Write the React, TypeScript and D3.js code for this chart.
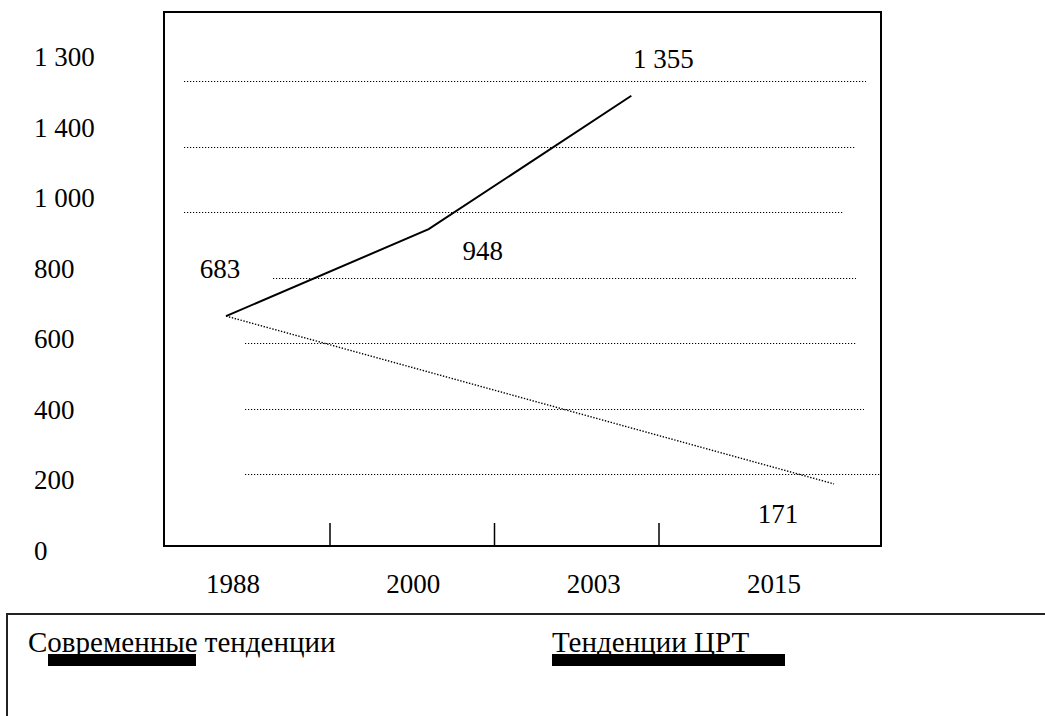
import * as d3 from "d3"

// data
const years = ["1988", "2000", "2003", "2015"]
const currentYears = ["1988", "2000", "2003"]
const currentValues = [683, 948, 1355]
const mdgYears = ["1988", "2015"]
const mdgValues = [683, 171]
const yTickLabels = ["1 300", "1 400", "1 000", "800", "600", "400", "200", "0"]
const gridValues = [200, 400, 600, 800, 1000, 1200, 1400]
const legendLabels = ["Современные тенденции", "Тенденции ЦРТ"]

const W = 1045
const H = 716
const frame = { left: 164, top: 12, right: 881, bottom: 546 }
const serif = "'Liberation Serif', Tinos, 'Times New Roman', serif"

export default function App() {
  const yScale = d3.scaleLinear().domain([0, 1400]).range([540, 81])
  const yLabelScale = d3.scalePoint().domain(yTickLabels).range([66, 560])
  const xLabelScale = d3.scalePoint().domain(years).range([233, 774])
  const xPointScale = d3.scalePoint().domain(years).range([226, 834])
  const xTickScale = d3.scaleLinear().domain([1, 3]).range([330, 659])

  const fmt = d3
    .formatLocale({ decimal: ",", thousands: " ", grouping: [3], currency: ["", ""] })
    .format(",")

  const currentData: [string, number][] = currentYears.map((y, i) => [y, currentValues[i]])
  const mdgData: [string, number][] = mdgYears.map((y, i) => [y, mdgValues[i]])

  const line = d3
    .line<[string, number]>()
    .x((d) => xPointScale(d[0]) ?? 0)
    .y((d) => yScale(d[1]))

  // hand drawn grid: each line starts / ends a bit differently
  const gridStart = (v: number) => (v >= 1000 ? 184 : v === 800 ? 273 : 245)
  const gridEnd = [frame.right, 864, 857, 856, 843, 855, 866]

  // value label offsets from their point (dx to centre, dy to baseline)
  const valueLabels = [
    { year: "1988", value: 683, dx: -6, dy: -38 },
    { year: "2000", value: 948, dx: 54, dy: 31 },
    { year: "2003", value: 1355, dx: 32, dy: -28 },
    { year: "2015", value: 171, dx: -56, dy: 39 },
  ]

  const legendX = [28, 552]
  const legendBarX = [48, 552]
  const legendBarW = [148, 233]

  return (
    <div>
      <style>{`body{margin:0} svg text{font-family:${serif} !important}`}</style>
      <svg width={W} height={H} style={{ display: "block" }} fontFamily={serif}>
        <rect width={W} height={H} fill="white" />

        {gridValues.map((v, i) => (
          <line
            key={v}
            x1={gridStart(v)}
            x2={gridEnd[i]}
            y1={Math.round(yScale(v)) + 0.5}
            y2={Math.round(yScale(v)) + 0.5}
            stroke="black"
            strokeWidth={1.2}
            strokeDasharray="1.2 1.8"
          />
        ))}

        <rect
          x={frame.left}
          y={frame.top}
          width={frame.right - frame.left}
          height={frame.bottom - frame.top}
          fill="none"
          stroke="black"
          strokeWidth={2}
        />

        {[1, 2, 3].map((t) => (
          <line
            key={t}
            x1={xTickScale(t)}
            x2={xTickScale(t)}
            y1={frame.bottom - 23}
            y2={frame.bottom}
            stroke="black"
            strokeWidth={1.5}
          />
        ))}

        <path d={line(mdgData) ?? ""} fill="none" stroke="black" strokeWidth={1.4} strokeDasharray="1.4 1.6" />
        <path d={line(currentData) ?? ""} fill="none" stroke="black" strokeWidth={2} />

        {valueLabels.map((d) => (
          <text
            key={d.year}
            x={(xPointScale(d.year) ?? 0) + d.dx}
            y={yScale(d.value) + d.dy}
            textAnchor="middle"
            fontSize={27}
          >
            {fmt(d.value)}
          </text>
        ))}

        {yTickLabels.map((t) => (
          <text key={t} x={34} y={yLabelScale(t)} fontSize={27}>
            {t}
          </text>
        ))}

        {years.map((y) => (
          <text key={y} x={xLabelScale(y)} y={593} textAnchor="middle" fontSize={27}>
            {y}
          </text>
        ))}

        <rect x={7} y={614} width={1200} height={300} fill="none" stroke="#222" strokeWidth={2} />
        {legendLabels.map((l, i) => (
          <g key={l}>
            <text x={legendX[i]} y={652} fontSize={29}>
              {l}
            </text>
            <rect x={legendBarX[i]} y={654} width={legendBarW[i]} height={12} fill="black" />
          </g>
        ))}
      </svg>
    </div>
  )
}
